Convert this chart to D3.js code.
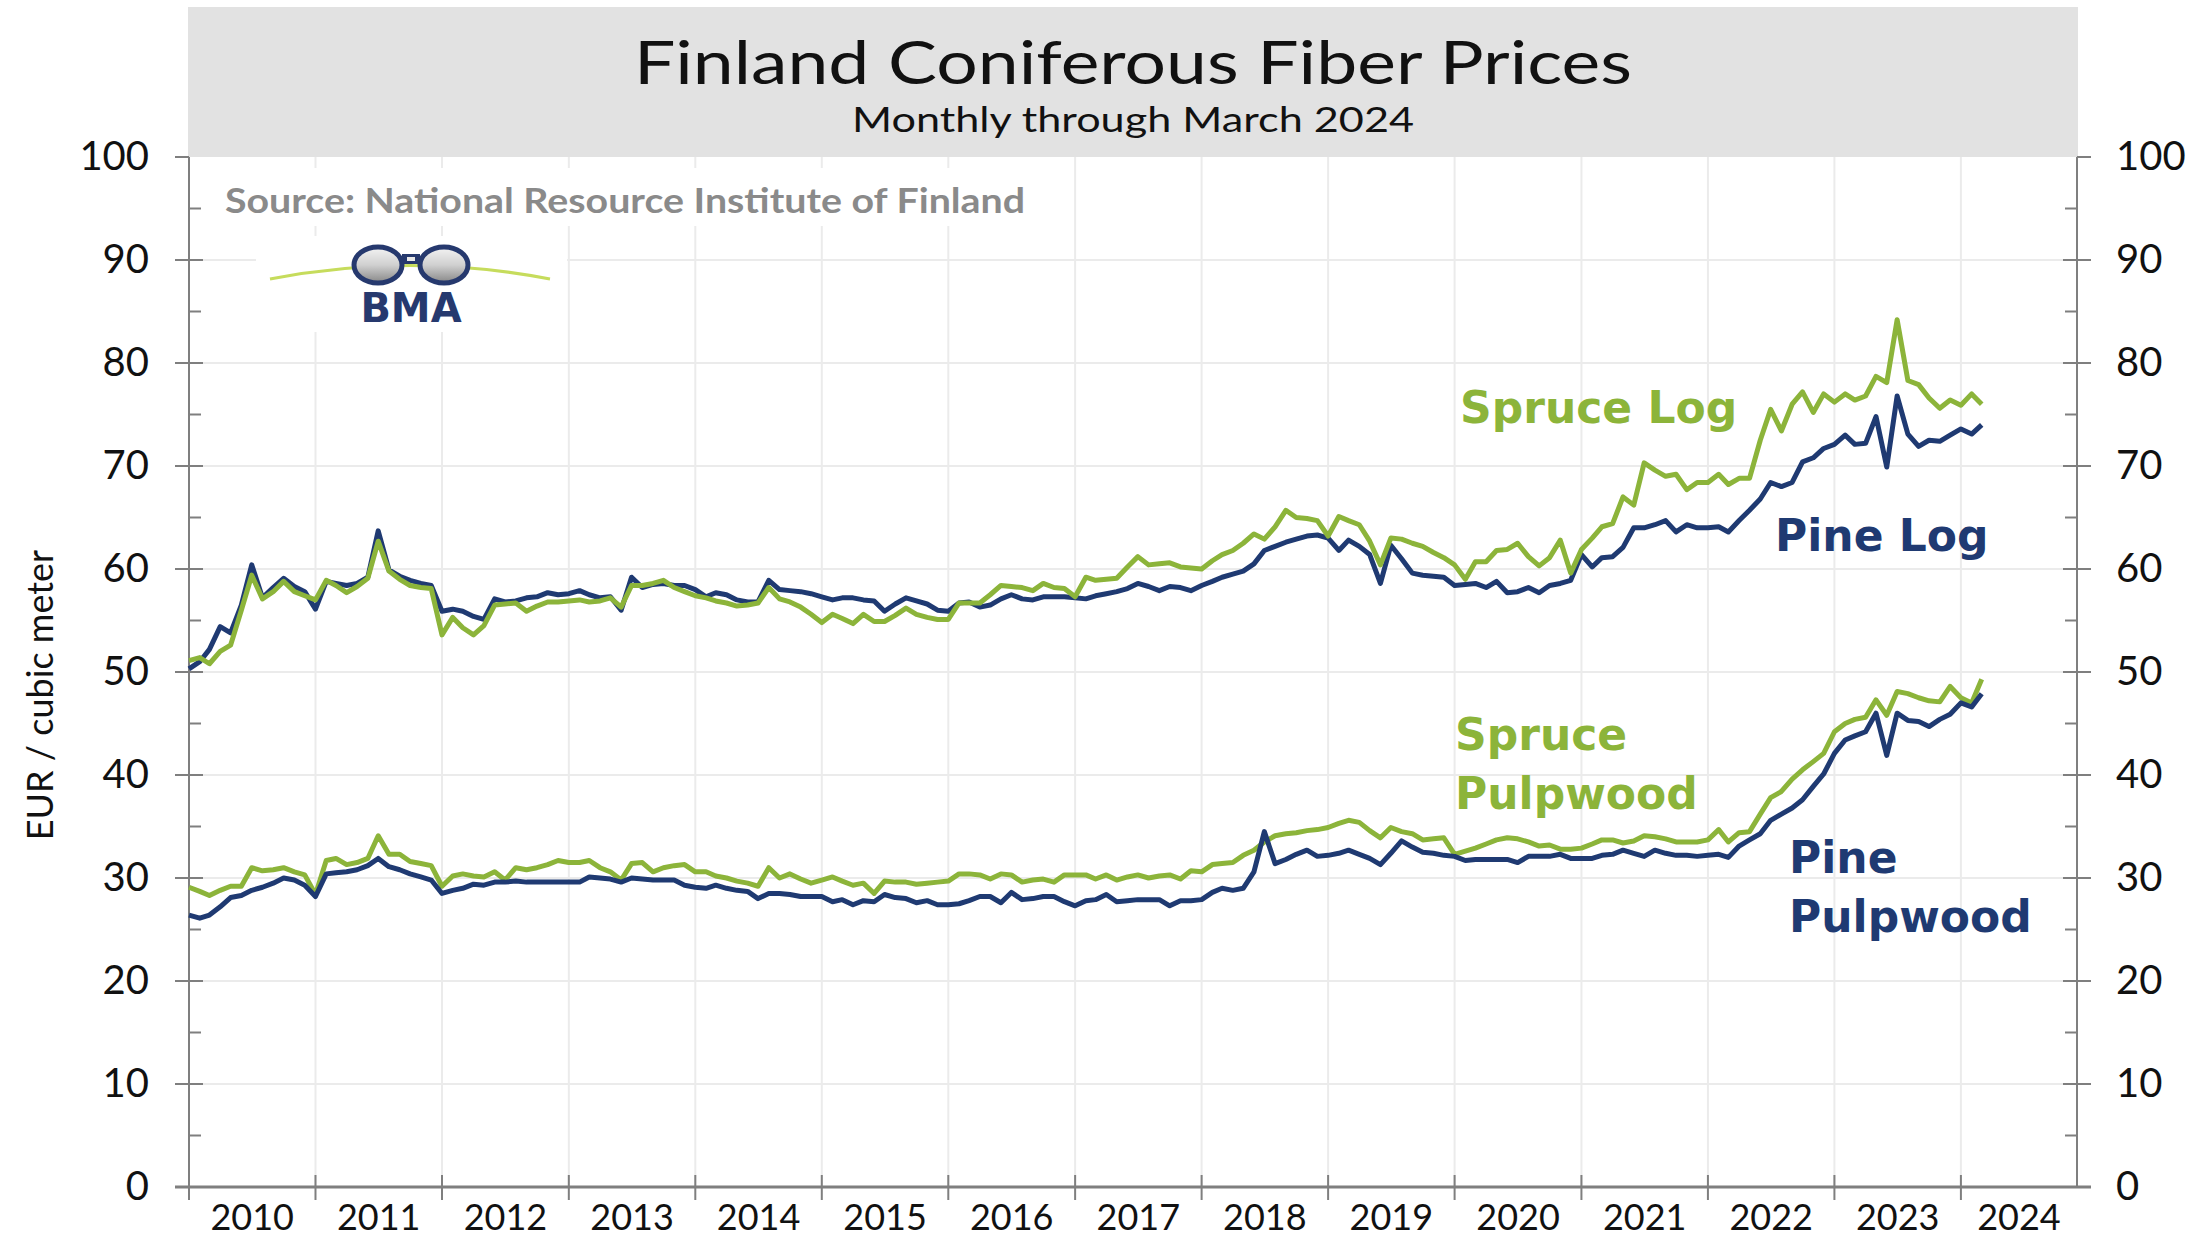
<!DOCTYPE html>
<html>
<head>
<meta charset="utf-8">
<title>Finland Coniferous Fiber Prices</title>
<script src="https://cdn.jsdelivr.net/npm/d3@7"></script>
<style>
  body { margin: 0; background: #fff; }
  svg { display: block; }
</style>
</head>
<body>
<svg id="chart" width="2202" height="1239"></svg>
<script>
// monthly series, Jan 2010 .. Mar 2024 (EUR / cubic meter), one row per year
var firstMonth = new Date(2010, 0, 1);
var axisEnd = new Date(2024, 11, 1);

var yearLabels = ['2010', '2011', '2012', '2013', '2014', '2015', '2016', '2017',
                  '2018', '2019', '2020', '2021', '2022', '2023', '2024'];
var yTickValues = [0, 10, 20, 30, 40, 50, 60, 70, 80, 90, 100];

var pineLog = [
  50.3, 51.0, 52.2, 54.4, 53.8, 56.5, 60.4, 57.2, 58.2, 59.1, 58.3, 57.8,
  56.1, 58.8, 58.6, 58.4, 58.6, 59.2, 63.7, 59.9, 59.3, 58.9, 58.6, 58.4,
  55.9, 56.1, 55.9, 55.4, 55.1, 57.1, 56.8, 56.9, 57.2, 57.3, 57.7, 57.5,
  57.6, 57.9, 57.5, 57.2, 57.3, 56.0, 59.2, 58.2, 58.5, 58.6, 58.4, 58.4,
  58.0, 57.3, 57.7, 57.5, 57.0, 56.8, 56.8, 58.9, 58.0, 57.9, 57.8, 57.6,
  57.3, 57.0, 57.2, 57.2, 57.0, 56.9, 55.9, 56.6, 57.2, 56.9, 56.6, 56.0,
  55.9, 56.7, 56.8, 56.3, 56.5, 57.1, 57.5, 57.1, 57.0, 57.3, 57.3, 57.3,
  57.2, 57.1, 57.4, 57.6, 57.8, 58.1, 58.6, 58.3, 57.9, 58.3, 58.2, 57.9,
  58.4, 58.8, 59.2, 59.5, 59.8, 60.5, 61.8, 62.2, 62.6, 62.9, 63.2, 63.3,
  63.0, 61.8, 62.8, 62.2, 61.4, 58.6, 62.3, 61.0, 59.6, 59.4, 59.3, 59.2,
  58.4, 58.5, 58.6, 58.2, 58.8, 57.7, 57.8, 58.2, 57.7, 58.4, 58.6, 58.9,
  61.4, 60.2, 61.1, 61.2, 62.1, 64.0, 64.0, 64.3, 64.7, 63.6, 64.3, 64.0,
  64.0, 64.1, 63.6, 64.7, 65.7, 66.8, 68.4, 68.0, 68.4, 70.4, 70.8, 71.7,
  72.1, 73.0, 72.1, 72.2, 74.8, 69.9, 76.8, 73.1, 71.9, 72.5, 72.4, 73.0,
  73.6, 73.1, 74.0
];

var spruceLog = [
  51.1, 51.4, 50.8, 52.0, 52.6, 56.0, 59.4, 57.1, 57.8, 58.8, 57.8, 57.4,
  57.0, 58.9, 58.4, 57.7, 58.3, 59.1, 62.7, 59.8, 59.0, 58.4, 58.2, 58.1,
  53.6, 55.3, 54.3, 53.6, 54.5, 56.5, 56.6, 56.7, 55.9, 56.4, 56.8, 56.8,
  56.9, 57.0, 56.8, 56.9, 57.2, 56.3, 58.4, 58.4, 58.6, 58.9, 58.2, 57.8,
  57.4, 57.2, 56.9, 56.7, 56.4, 56.5, 56.7, 58.2, 57.1, 56.8, 56.3, 55.6,
  54.8, 55.6, 55.2, 54.7, 55.6, 54.9, 54.9, 55.5, 56.2, 55.6, 55.3, 55.1,
  55.1, 56.7, 56.7, 56.7, 57.5, 58.4, 58.3, 58.2, 57.9, 58.6, 58.2, 58.1,
  57.3, 59.2, 58.9, 59.0, 59.1, 60.2, 61.2, 60.4, 60.5, 60.6, 60.2, 60.1,
  60.0, 60.8, 61.4, 61.8, 62.5, 63.4, 62.9, 64.1, 65.7, 65.0, 64.9, 64.7,
  63.2, 65.1, 64.7, 64.3, 62.7, 60.4, 63.0, 62.9, 62.5, 62.2, 61.6, 61.1,
  60.4, 59.0, 60.7, 60.7, 61.8, 61.9, 62.5, 61.2, 60.3, 61.1, 62.8, 59.6,
  61.9, 63.0, 64.1, 64.4, 67.0, 66.2, 70.3, 69.6, 69.0, 69.2, 67.7, 68.4,
  68.4, 69.2, 68.2, 68.8, 68.8, 72.5, 75.5, 73.4, 76.0, 77.2, 75.2, 77.0,
  76.2, 77.0, 76.4, 76.8, 78.7, 78.1, 84.2, 78.3, 77.9, 76.6, 75.6, 76.4,
  75.9, 77.0, 76.0
];

var pinePulp = [
  26.4, 26.1, 26.4, 27.2, 28.1, 28.3, 28.8, 29.1, 29.5, 30.0, 29.8, 29.3,
  28.2, 30.4, 30.5, 30.6, 30.8, 31.2, 31.9, 31.1, 30.8, 30.4, 30.1, 29.8,
  28.5, 28.8, 29.0, 29.4, 29.3, 29.6, 29.6, 29.7, 29.6, 29.6, 29.6, 29.6,
  29.6, 29.6, 30.1, 30.0, 29.9, 29.6, 30.0, 29.9, 29.8, 29.8, 29.8, 29.3,
  29.1, 29.0, 29.3, 29.0, 28.8, 28.7, 28.0, 28.5, 28.5, 28.4, 28.2, 28.2,
  28.2, 27.7, 27.9, 27.4, 27.8, 27.7, 28.4, 28.1, 28.0, 27.6, 27.8, 27.4,
  27.4, 27.5, 27.8, 28.2, 28.2, 27.6, 28.6, 27.9, 28.0, 28.2, 28.2, 27.7,
  27.3, 27.8, 27.9, 28.4, 27.7, 27.8, 27.9, 27.9, 27.9, 27.3, 27.8, 27.8,
  27.9, 28.6, 29.0, 28.8, 29.0, 30.6, 34.5, 31.4, 31.8, 32.3, 32.7, 32.1,
  32.2, 32.4, 32.7, 32.3, 31.9, 31.3, 32.4, 33.6, 33.0, 32.5, 32.4, 32.2,
  32.1, 31.7, 31.8, 31.8, 31.8, 31.8, 31.5, 32.1, 32.1, 32.1, 32.3, 31.9,
  31.9, 31.9, 32.2, 32.3, 32.7, 32.4, 32.1, 32.7, 32.4, 32.2, 32.2, 32.1,
  32.2, 32.3, 32.0, 33.1, 33.7, 34.3, 35.6, 36.2, 36.8, 37.6, 38.9, 40.1,
  42.1, 43.4, 43.8, 44.2, 46.0, 41.9, 46.0, 45.3, 45.2, 44.7, 45.4, 45.9,
  47.0, 46.6, 47.9
];

var sprucePulp = [
  29.1, 28.7, 28.3, 28.8, 29.2, 29.2, 31.0, 30.7, 30.8, 31.0, 30.6, 30.3,
  28.4, 31.7, 31.9, 31.3, 31.5, 31.9, 34.1, 32.3, 32.3, 31.6, 31.4, 31.2,
  29.2, 30.2, 30.4, 30.2, 30.1, 30.6, 29.8, 31.0, 30.8, 31.0, 31.3, 31.7,
  31.5, 31.5, 31.7, 31.0, 30.6, 29.8, 31.4, 31.5, 30.6, 31.0, 31.2, 31.3,
  30.6, 30.6, 30.2, 30.0, 29.7, 29.5, 29.2, 31.0, 30.0, 30.4, 29.9, 29.5,
  29.8, 30.1, 29.7, 29.3, 29.5, 28.5, 29.7, 29.6, 29.6, 29.4, 29.5, 29.6,
  29.7, 30.4, 30.4, 30.3, 29.9, 30.4, 30.3, 29.6, 29.8, 29.9, 29.6, 30.3,
  30.3, 30.3, 29.9, 30.3, 29.8, 30.1, 30.3, 30.0, 30.2, 30.3, 29.9, 30.7,
  30.6, 31.3, 31.4, 31.5, 32.2, 32.7, 33.5, 34.1, 34.3, 34.4, 34.6, 34.7,
  34.9, 35.3, 35.6, 35.4, 34.6, 33.9, 34.9, 34.5, 34.3, 33.7, 33.8, 33.9,
  32.3, 32.6, 32.9, 33.3, 33.7, 33.9, 33.8, 33.5, 33.1, 33.2, 32.8, 32.8,
  32.9, 33.3, 33.7, 33.7, 33.4, 33.6, 34.1, 34.0, 33.8, 33.5, 33.5, 33.5,
  33.7, 34.7, 33.5, 34.4, 34.5, 36.2, 37.8, 38.4, 39.6, 40.5, 41.3, 42.1,
  44.2, 45.0, 45.4, 45.6, 47.3, 45.8, 48.1, 47.9, 47.5, 47.2, 47.1, 48.6,
  47.5, 47.0, 49.3
];

var green = '#8cb43a';
var navy = '#1f3a72';
var axisGray = '#7f7f7f';

var svg = d3.select('#chart');
var plotLeft = 189, plotRight = 2077, plotTop = 157, plotBottom = 1187;

var x = d3.scaleTime().domain([firstMonth, axisEnd]).range([plotLeft, plotRight]);
var y = d3.scaleLinear().domain([0, 100]).range([plotBottom, plotTop]);
var yearStart = function(label) { return new Date(+label, 0, 1); };

svg.append('rect').attr('width', 2202).attr('height', 1239).attr('fill', '#fff');

// title band
svg.append('rect')
  .attr('x', 188).attr('y', 7).attr('width', 1890).attr('height', plotTop - 7)
  .attr('fill', '#e2e2e2');

svg.append('text')
  .attr('x', 1133).attr('y', 84)
  .attr('text-anchor', 'middle')
  .attr('font-family', 'Lato, sans-serif').attr('font-size', 60)
  .attr('fill', '#111')
  .attr('textLength', 998).attr('lengthAdjust', 'spacingAndGlyphs')
  .text('Finland Coniferous Fiber Prices');

svg.append('text')
  .attr('x', 1133).attr('y', 132)
  .attr('text-anchor', 'middle')
  .attr('font-family', 'Lato, sans-serif').attr('font-size', 35)
  .attr('fill', '#111')
  .attr('textLength', 562).attr('lengthAdjust', 'spacingAndGlyphs')
  .text('Monthly through March 2024');

// gridlines
var grid = svg.append('g').attr('stroke', '#ebebeb').attr('stroke-width', 2);
grid.selectAll('line.h')
    .data(yTickValues.filter(function(d) { return d > 0 && d < 100; }))
  .enter().append('line')
    .attr('class', 'h')
    .attr('x1', plotLeft).attr('x2', plotRight)
    .attr('y1', function(d) { return y(d); })
    .attr('y2', function(d) { return y(d); });
grid.selectAll('line.v')
    .data(yearLabels.slice(1))
  .enter().append('line')
    .attr('class', 'v')
    .attr('x1', function(d) { return x(yearStart(d)); })
    .attr('x2', function(d) { return x(yearStart(d)); })
    .attr('y1', plotTop).attr('y2', plotBottom);

// white boxes behind source note and logo
svg.append('rect').attr('x', 214).attr('y', 168).attr('width', 826).attr('height', 58).attr('fill', '#fff');
svg.append('rect').attr('x', 256).attr('y', 236).attr('width', 311).attr('height', 96).attr('fill', '#fff');

svg.append('text')
  .attr('x', 225).attr('y', 213)
  .attr('font-family', 'Lato, sans-serif').attr('font-weight', 'bold').attr('font-size', 34)
  .attr('fill', '#8a8a8a')
  .attr('textLength', 800).attr('lengthAdjust', 'spacingAndGlyphs')
  .text('Source: National Resource Institute of Finland');

// BMA logo
var logo = svg.append('g');
var defs = svg.append('defs');
var lens = defs.append('linearGradient').attr('id', 'lens').attr('x1', 0).attr('y1', 0).attr('x2', 0).attr('y2', 1);
lens.append('stop').attr('offset', '0%').attr('stop-color', '#f4f4f4');
lens.append('stop').attr('offset', '50%').attr('stop-color', '#d0d0d0');
lens.append('stop').attr('offset', '100%').attr('stop-color', '#868686');
logo.append('path')
  .attr('d', 'M270,279 Q410,252 550,279')
  .attr('fill', 'none').attr('stroke', '#c6dc5c').attr('stroke-width', 3);
logo.selectAll('ellipse').data([378, 444]).enter().append('ellipse')
  .attr('cx', function(d) { return d; }).attr('cy', 265)
  .attr('rx', 24).attr('ry', 18)
  .attr('fill', 'url(#lens)').attr('stroke', '#26396e').attr('stroke-width', 5);
logo.append('rect').attr('x', 402).attr('y', 254).attr('width', 18).attr('height', 10).attr('fill', '#26396e');
logo.append('rect').attr('x', 407).attr('y', 257).attr('width', 8).attr('height', 4).attr('fill', '#e8e8e8');
logo.append('text')
  .attr('x', 411).attr('y', 322)
  .attr('text-anchor', 'middle')
  .attr('font-family', 'DejaVu Sans, sans-serif').attr('font-weight', 'bold').attr('font-size', 40)
  .attr('fill', '#26396e')
  .text('BMA');

// axes
var axes = svg.append('g').attr('stroke', axisGray).attr('fill', 'none');
axes.append('line').attr('x1', plotLeft).attr('x2', plotLeft).attr('y1', plotTop).attr('y2', plotBottom + 13).attr('stroke-width', 2);
axes.append('line').attr('x1', plotRight).attr('x2', plotRight).attr('y1', plotTop).attr('y2', plotBottom).attr('stroke-width', 2);

var minor = d3.range(5, 100, 10);
axes.selectAll('line.lmaj').data(yTickValues).enter().append('line')
  .attr('x1', plotLeft - 14)
  .attr('x2', function(d) { return (d === 0 || d === 100) ? plotLeft : plotLeft + 14; })
  .attr('y1', function(d) { return y(d); }).attr('y2', function(d) { return y(d); })
  .attr('stroke-width', 2);
axes.selectAll('line.lmin').data(minor).enter().append('line')
  .attr('x1', plotLeft).attr('x2', plotLeft + 12)
  .attr('y1', function(d) { return y(d); }).attr('y2', function(d) { return y(d); })
  .attr('stroke-width', 2);
axes.selectAll('line.rmaj').data(yTickValues).enter().append('line')
  .attr('x1', function(d) { return (d === 0 || d === 100) ? plotRight : plotRight - 14; })
  .attr('x2', plotRight + 14)
  .attr('y1', function(d) { return y(d); }).attr('y2', function(d) { return y(d); })
  .attr('stroke-width', 2);
axes.selectAll('line.rmin').data(minor).enter().append('line')
  .attr('x1', plotRight - 12).attr('x2', plotRight)
  .attr('y1', function(d) { return y(d); }).attr('y2', function(d) { return y(d); })
  .attr('stroke-width', 2);

axes.append('line').attr('x1', plotLeft - 14).attr('x2', plotRight + 14).attr('y1', plotBottom).attr('y2', plotBottom).attr('stroke-width', 3);
axes.selectAll('line.xt').data(yearLabels).enter().append('line')
  .attr('x1', function(d) { return x(yearStart(d)); })
  .attr('x2', function(d) { return x(yearStart(d)); })
  .attr('y1', plotBottom - 12).attr('y2', plotBottom + 13)
  .attr('stroke-width', 2);

// tick labels
var yAxisLeft = d3.axisLeft(y).tickValues(yTickValues).tickSize(0).tickPadding(40);
var yAxisRight = d3.axisRight(y).tickValues(yTickValues).tickSize(0).tickPadding(39);
svg.append('g').attr('transform', 'translate(' + plotLeft + ',0)').call(yAxisLeft)
  .call(function(g) { g.select('.domain').remove(); })
  .selectAll('text').attr('font-family', 'Lato, sans-serif').attr('font-size', 40).attr('fill', '#111');
svg.append('g').attr('transform', 'translate(' + plotRight + ',0)').call(yAxisRight)
  .call(function(g) { g.select('.domain').remove(); })
  .selectAll('text').attr('font-family', 'Lato, sans-serif').attr('font-size', 40).attr('fill', '#111');

svg.append('g').selectAll('text').data(yearLabels).enter().append('text')
  .attr('x', function(d) {
    var a = x(yearStart(d));
    var b = x(d3.min([new Date(+d + 1, 0, 1), axisEnd]));
    return (a + b) / 2;
  })
  .attr('y', 1230)
  .attr('text-anchor', 'middle')
  .attr('font-family', 'Lato, sans-serif').attr('font-size', 36).attr('fill', '#111')
  .text(function(d) { return d; });

svg.append('text')
  .attr('transform', 'translate(40,695) rotate(-90)')
  .attr('text-anchor', 'middle').attr('dy', '0.35em')
  .attr('font-family', 'Lato, sans-serif').attr('font-size', 36).attr('fill', '#111')
  .text('EUR / cubic meter');

// series
var line = d3.line()
  .x(function(d, i) { return x(d3.timeMonth.offset(firstMonth, i)); })
  .y(function(d) { return y(d); });

var series = [
  { values: pineLog, color: navy },
  { values: spruceLog, color: green },
  { values: sprucePulp, color: green },
  { values: pinePulp, color: navy }
];
svg.append('g').selectAll('path').data(series).enter().append('path')
  .attr('d', function(d) { return line(d.values); })
  .attr('fill', 'none')
  .attr('stroke', function(d) { return d.color; })
  .attr('stroke-width', 5)
  .attr('stroke-linejoin', 'round');

// series labels
var labels = [
  { lines: ['Spruce Log'], x: 1460, y: 423, color: green },
  { lines: ['Pine Log'], x: 1775, y: 551, color: navy },
  { lines: ['Spruce', 'Pulpwood'], x: 1455, y: 750, color: green },
  { lines: ['Pine', 'Pulpwood'], x: 1789, y: 873, color: navy }
];
labels.forEach(function(l) {
  var t = svg.append('text')
    .attr('font-family', 'DejaVu Sans, sans-serif').attr('font-weight', 'bold').attr('font-size', 44)
    .attr('fill', l.color);
  l.lines.forEach(function(s, i) {
    t.append('tspan').attr('x', l.x).attr('y', l.y + i * 59).text(s);
  });
});
</script>
</body>
</html>
